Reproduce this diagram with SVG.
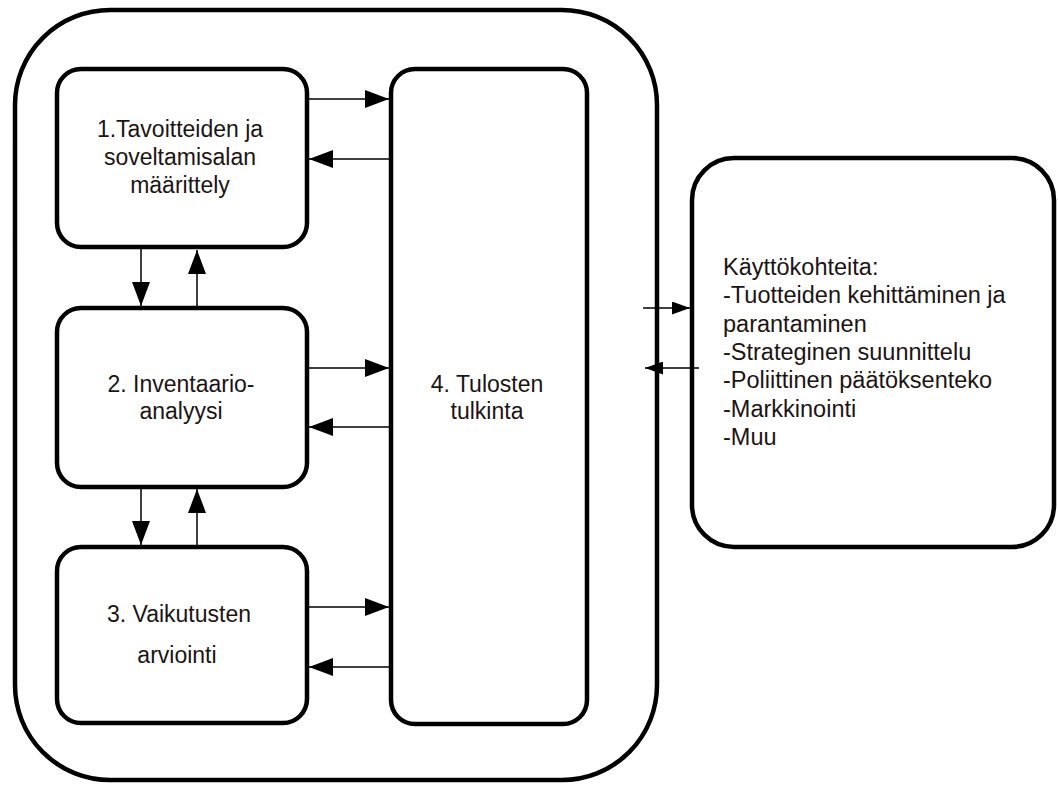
<svg xmlns="http://www.w3.org/2000/svg" width="1058" height="785" viewBox="0 0 1058 785">
  <style>
    .box { fill: none; stroke: #000; stroke-width: 4.5; }
    .lbl { font-family: "Liberation Sans", Arial, sans-serif; font-size: 23px; fill: #1c1414; }
    .mid { text-anchor: middle; }
    .wire { stroke: #000; stroke-width: 1.5; fill: none; }
    .big { marker-end: url(#head); }
    .small { marker-end: url(#headSmall); }
  </style>
  <defs>
    <marker id="head" viewBox="0 0 24 18" refX="24" refY="9" markerWidth="24" markerHeight="18" markerUnits="userSpaceOnUse" orient="auto">
      <path d="M0,0 L24,9 L0,18 Z" fill="#000"/>
    </marker>
    <marker id="headSmall" viewBox="0 0 18 13" refX="18" refY="6.5" markerWidth="18" markerHeight="13" markerUnits="userSpaceOnUse" orient="auto">
      <path d="M0,0 L18,6.5 L0,13 Z" fill="#000"/>
    </marker>
  </defs>

  <rect width="1058" height="785" fill="#fff"/>

  <!-- enclosing frame -->
  <g id="frame">
    <rect class="box" x="15" y="10" width="642" height="770" rx="95" ry="95"/>
  </g>

  <g id="node1">
    <rect class="box" x="57" y="69" width="250" height="178" rx="24" ry="24"/>
    <text class="lbl mid" x="180" y="137">1.Tavoitteiden ja</text>
    <text class="lbl mid" x="180" y="165">soveltamisalan</text>
    <text class="lbl mid" x="180" y="193">määrittely</text>
  </g>

  <g id="node2">
    <rect class="box" x="57" y="308" width="250" height="179" rx="24" ry="24"/>
    <text class="lbl mid" x="181" y="392">2. Inventaario-</text>
    <text class="lbl mid" x="181" y="419">analyysi</text>
  </g>

  <g id="node3">
    <rect class="box" x="57" y="547" width="250" height="176" rx="24" ry="24"/>
    <text class="lbl mid" x="179" y="622">3. Vaikutusten</text>
    <text class="lbl mid" x="177" y="663">arviointi</text>
  </g>

  <g id="node4">
    <rect class="box" x="391" y="69" width="196" height="655" rx="24" ry="24"/>
    <text class="lbl mid" x="487" y="392">4. Tulosten</text>
    <text class="lbl mid" x="487" y="419">tulkinta</text>
  </g>

  <g id="node5">
    <rect class="box" x="692" y="158" width="362" height="389" rx="42" ry="42"/>
    <text class="lbl" style="font-size:23.5px" x="723" y="275">Käyttökohteita:</text>
    <text class="lbl" style="font-size:23.5px" x="723" y="303">-Tuotteiden kehittäminen ja</text>
    <text class="lbl" style="font-size:23.5px" x="723" y="332">parantaminen</text>
    <text class="lbl" style="font-size:23.5px" x="723" y="360">-Strateginen suunnittelu</text>
    <text class="lbl" style="font-size:23.5px" x="723" y="388">-Poliittinen päätöksenteko</text>
    <text class="lbl" style="font-size:23.5px" x="723" y="417">-Markkinointi</text>
    <text class="lbl" style="font-size:23.5px" x="723" y="445">-Muu</text>
  </g>

  <g id="connectors">
    <!-- steps 1-3 to interpretation and back -->
    <line class="wire big" x1="309" y1="99" x2="389" y2="99"/>
    <line class="wire big" x1="389" y1="159" x2="309" y2="159"/>
    <line class="wire big" x1="309" y1="368" x2="389" y2="368"/>
    <line class="wire big" x1="389" y1="427" x2="309" y2="427"/>
    <line class="wire big" x1="309" y1="607" x2="389" y2="607"/>
    <line class="wire big" x1="389" y1="667" x2="309" y2="667"/>
    <!-- between stacked steps -->
    <line class="wire big" x1="141" y1="249" x2="141" y2="306"/>
    <line class="wire big" x1="197" y1="306" x2="197" y2="250"/>
    <line class="wire big" x1="141" y1="489" x2="141" y2="545"/>
    <line class="wire big" x1="197" y1="545" x2="197" y2="489"/>
    <!-- frame to applications -->
    <line class="wire small" x1="643" y1="308" x2="690" y2="308"/>
    <line class="wire small" x1="699" y1="368" x2="645" y2="368"/>
  </g>
</svg>
